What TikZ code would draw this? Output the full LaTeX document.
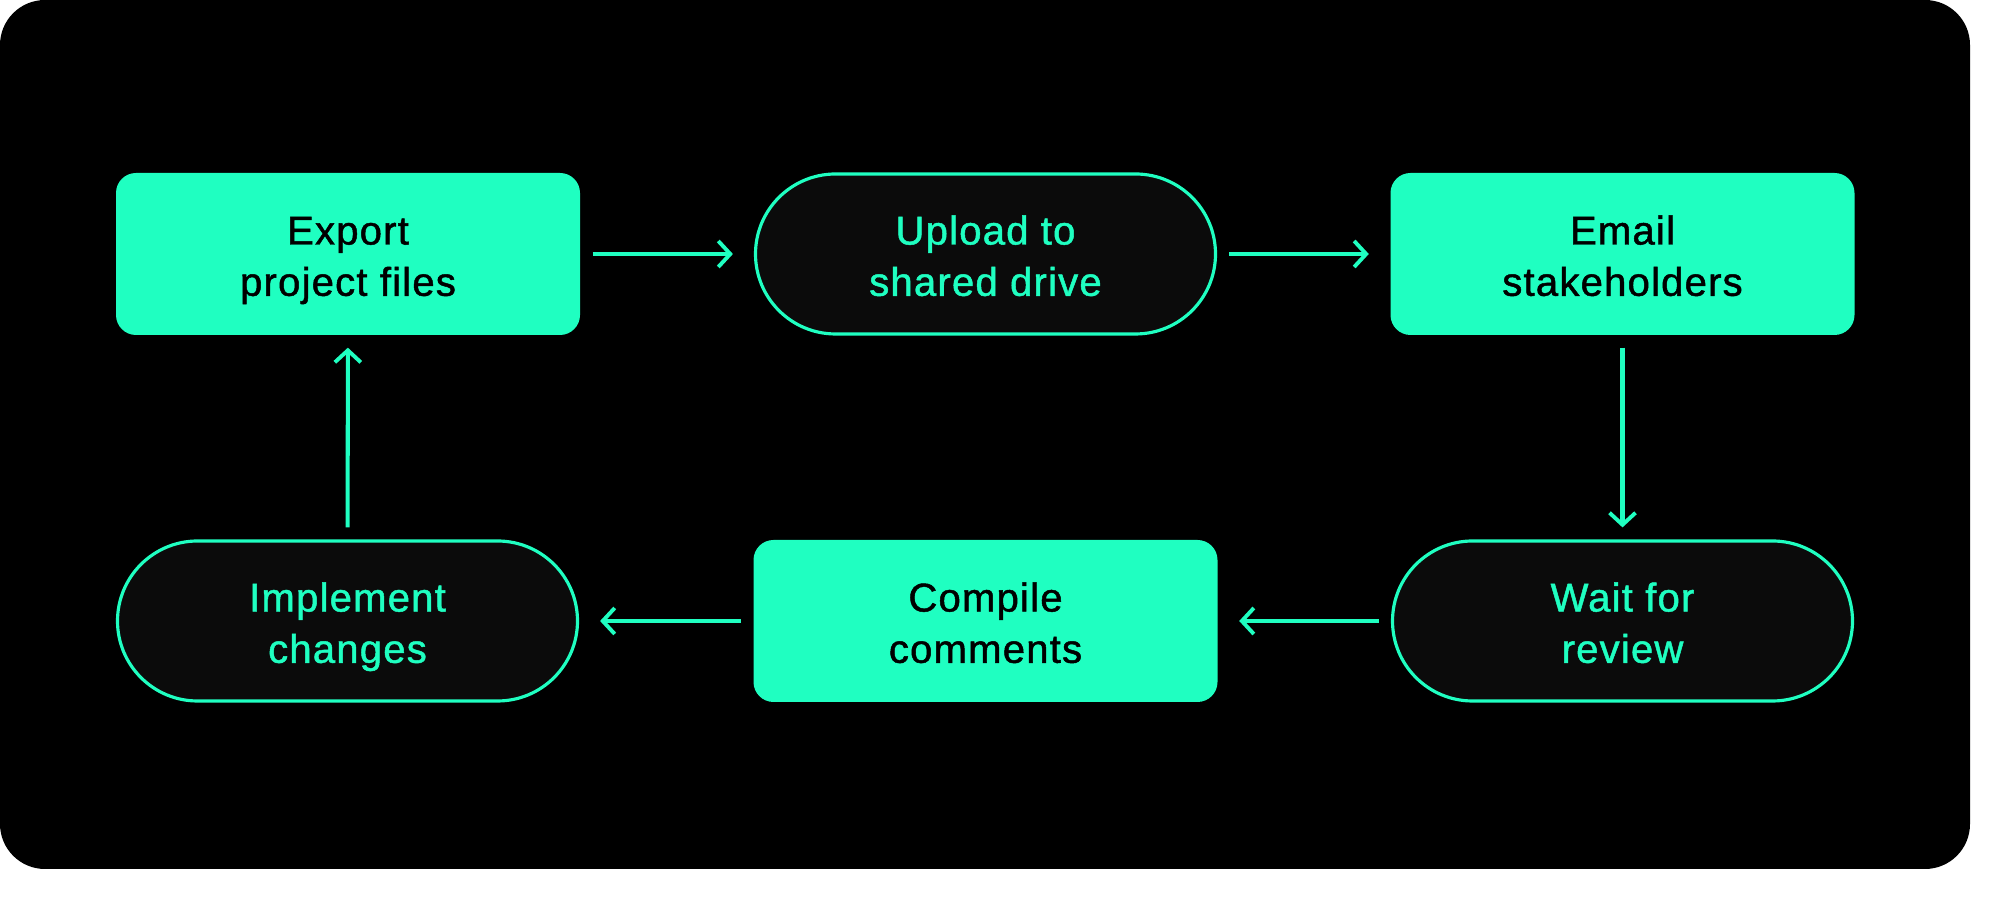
\documentclass[tikz,border=0pt]{standalone}
\usepackage{fontspec}
\setmainfont{Liberation Sans}[FakeBold=1.2, LetterSpace=3]
\usetikzlibrary{arrows.meta}
\definecolor{mint}{HTML}{1FFFC1}
\definecolor{pillbg}{HTML}{0B0B0B}
\begin{document}
\begin{tikzpicture}[
        font=\fontsize{11.4}{14.6}\selectfont,
        x=1cm, y=1cm,
        lbl/.style   ={align=center, inner sep=0pt, text height=25.4pt, text depth=1.6pt},
        task/.style  ={lbl, rectangle, rounded corners=0.2cm, minimum width=4.64cm, minimum height=1.62cm,
                       fill=mint, text=black},
        wait/.style  ={lbl, rectangle, rounded corners=0.8cm, minimum width=4.6cm, minimum height=1.6cm,
                       draw=mint, fill=pillbg, text=mint, line width=0.9pt},
        arr/.style   ={-{Straight Barb[length=0.12cm, width=0.26cm, line width=1.1pt]}, draw=mint,
                       line width=1.15pt, shorten <=0.12cm, shorten >=0.21cm},
        varr/.style  ={arr, shorten >=0.12cm},
    ]
    %% Background panel
    \useasboundingbox (0,0) rectangle (20,-8.99);
    \fill[white] (0,0) rectangle (20,-8.99);
    \fill[black, rounded corners=0.45cm] (0,0) rectangle (19.70,-8.69);

    %% Top row
    \node[task] (export) at (3.48,  -2.54) {Export\\project files};
    \node[wait] (upload) at (9.855, -2.54) {Upload to\\shared drive};
    \node[task] (email)  at (16.225,-2.54) {Email\\stakeholders};

    %% Bottom row
    \node[wait] (implement) at (3.475, -6.21) {Implement\\changes};
    \node[task] (compile)   at (9.855, -6.21) {Compile\\comments};
    \node[wait] (review)    at (16.225,-6.21) {Wait for\\review};

    %% Cycle
    \draw[arr]  (export) -- (upload);
    \draw[arr]  (upload) -- (email);
    \draw[varr] (email) -- (review);
    \draw[arr]  (review) -- (compile);
    \draw[arr]  (compile) -- (implement);
    \draw[varr] (implement) -- (export);

    \end{tikzpicture}
\end{document}
